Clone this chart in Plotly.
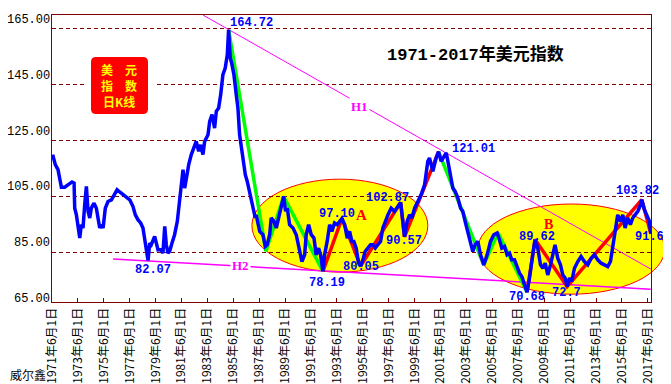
import plotly.graph_objects as go

# ---------------- data ----------------
years = [
    1971.47, 1971.67, 1971.88, 1972.01, 1972.14, 1972.40, 1972.65, 1972.96, 1973.12, 1973.17,
    1973.30, 1973.43, 1973.56, 1973.68, 1973.81, 1973.94, 1974.07, 1974.20, 1974.33, 1974.45,
    1974.66, 1974.84, 1974.97, 1975.10, 1975.22, 1975.36, 1975.53, 1975.74, 1976.00, 1976.26,
    1976.44, 1976.64, 1976.90, 1977.15, 1977.42, 1977.67, 1977.85, 1978.06, 1978.26, 1978.44,
    1978.57, 1978.70, 1978.83, 1978.96, 1979.08, 1979.34, 1979.47, 1979.60, 1979.81, 1979.98,
    1980.12, 1980.24, 1980.37, 1980.50, 1980.68, 1980.88, 1981.09, 1981.27, 1981.40, 1981.53,
    1981.66, 1981.78, 1981.97, 1982.17, 1982.35, 1982.55, 1982.74, 1982.89, 1983.07, 1983.20,
    1983.46, 1983.59, 1983.77, 1983.97, 1984.10, 1984.28, 1984.44, 1984.61, 1984.79, 1984.95,
    1985.05, 1985.18, 1985.31, 1985.46, 1985.64, 1985.77, 1985.90, 1986.03, 1986.16, 1986.34,
    1986.49, 1986.67, 1986.80, 1986.93, 1987.11, 1987.18, 1987.45, 1987.70, 1987.88, 1988.03,
    1988.22, 1988.34, 1988.55, 1988.73, 1988.91, 1989.11, 1989.30, 1989.45, 1989.58, 1989.76,
    1990.02, 1990.27, 1990.53, 1990.71, 1990.92, 1991.04, 1991.23, 1991.43, 1991.64, 1991.81,
    1992.00, 1992.15, 1992.33, 1992.46, 1992.66, 1992.85, 1993.02, 1993.23, 1993.43, 1993.62,
    1993.80, 1994.01, 1994.21, 1994.39, 1994.57, 1994.72, 1994.90, 1995.08, 1995.24, 1995.42,
    1995.59, 1995.80, 1996.01, 1996.19, 1996.37, 1996.57, 1996.78, 1996.96, 1997.14, 1997.35,
    1997.60, 1997.86, 1998.12, 1998.33, 1998.50, 1998.63, 1998.84, 1999.02, 1999.20, 1999.41,
    1999.66, 1999.91, 2000.18, 2000.43, 2000.56, 2000.82, 2001.07, 2001.26, 2001.46, 2001.72,
    2001.85, 2001.98, 2002.18, 2002.36, 2002.54, 2002.75, 2002.96, 2003.13, 2003.31, 2003.52,
    2003.73, 2003.90, 2004.08, 2004.29, 2004.50, 2004.75, 2005.01, 2005.27, 2005.52, 2005.78,
    2005.96, 2006.14, 2006.35, 2006.55, 2006.74, 2006.91, 2007.12, 2007.32, 2007.51, 2007.69,
    2007.89, 2008.09, 2008.28, 2008.40, 2008.53, 2008.71, 2008.92, 2009.13, 2009.31, 2009.49,
    2009.69, 2009.90, 2010.08, 2010.25, 2010.46, 2010.67, 2010.85, 2011.03, 2011.18, 2011.37,
    2011.54, 2011.75, 2012.01, 2012.26, 2012.52, 2012.78, 2013.04, 2013.29, 2013.55, 2013.81,
    2014.07, 2014.32, 2014.53, 2014.71, 2014.88, 2015.09, 2015.30, 2015.48, 2015.66, 2015.86,
    2016.07, 2016.25, 2016.43, 2016.64, 2016.85, 2016.95, 2017.15, 2017.36, 2017.54, 2017.60,
    2017.65,
]
usdx = [
    120.0, 116.4, 114.6, 111.6, 108.3, 108.3, 109.0, 110.2, 109.8, 100.8,
    98.4, 94.9, 90.1, 94.9, 93.7, 102.0, 108.6, 99.7, 97.3, 100.8,
    102.6, 100.8, 97.3, 93.7, 94.9, 93.7, 100.8, 103.2, 103.8, 105.6,
    107.4, 106.6, 105.6, 105.0, 103.8, 101.4, 98.4, 96.6, 95.5, 93.7,
    90.1, 87.1, 82.07, 88.3, 87.7, 90.7, 88.3, 85.9, 86.0, 84.7,
    94.3, 87.7, 84.7, 85.4, 88.3, 91.3, 96.1, 103.2, 110.4, 114.6,
    108.0, 111.6, 116.4, 120.0, 122.3, 124.7, 121.2, 123.5, 120.0, 124.7,
    127.1, 131.9, 134.3, 129.5, 135.5, 136.7, 141.5, 148.6, 151.0, 155.8,
    164.72, 154.6, 152.2, 148.6, 141.5, 136.7, 127.1, 122.3, 117.6, 112.8,
    110.4, 106.8, 104.4, 100.8, 97.3, 98.4, 92.5, 91.3, 87.1, 87.7,
    91.3, 97.3, 96.1, 93.7, 97.3, 102.0, 105.0, 99.7, 100.8, 94.9,
    93.7, 91.3, 85.3, 81.7, 84.1, 91.3, 94.9, 91.3, 90.1, 84.1,
    86.5, 84.1, 78.19, 84.1, 88.9, 94.9, 92.5, 95.5, 94.9, 96.1,
    97.10, 94.9, 90.1, 92.5, 88.9, 88.9, 86.5, 81.1, 80.05, 82.3,
    85.3, 86.5, 87.7, 87.7, 86.5, 87.7, 88.9, 93.7, 96.1, 98.4,
    100.8, 99.7, 101.4, 102.87, 96.1, 90.57, 96.1, 98.4, 97.3, 100.8,
    103.2, 105.6, 109.2, 117.6, 118.8, 114.0, 118.8, 121.01, 117.6, 120.0,
    120.6, 117.6, 112.8, 108.0, 106.8, 104.4, 100.8, 99.7, 96.1, 92.5,
    88.9, 85.3, 87.7, 88.9, 84.1, 80.5, 84.1, 88.9, 91.3, 91.9,
    89.5, 86.5, 87.1, 84.1, 84.7, 82.3, 82.3, 79.9, 77.5, 76.3,
    73.4, 70.68, 75.8, 80.5, 84.1, 89.62, 86.5, 80.5, 79.3, 81.1,
    76.9, 80.5, 84.7, 87.7, 82.9, 80.5, 76.9, 75.8, 72.7, 75.8,
    74.6, 79.3, 81.7, 83.5, 81.7, 80.5, 82.9, 84.1, 82.3, 81.1,
    80.5, 79.9, 81.7, 87.7, 92.5, 98.4, 96.1, 98.4, 93.7, 97.3,
    94.9, 97.3, 98.4, 99.7, 102.0, 103.82, 100.3, 98.4, 96.1, 93.2,
    91.62,
]

# zig-zag wave lines
green1_x = [1985.05, 1987.93, 1989.30, 1992.33]
green1_y = [164.72, 85.4, 105.0, 78.19]
red1_x = [1992.33, 1993.80, 1995.24, 1998.33, 1998.63, 2001.26]
red1_y = [78.19, 97.10, 80.05, 102.87, 90.57, 121.01]
green2_x = [2001.26, 2004.75, 2005.85, 2008.09]
green2_y = [121.01, 80.5, 92.0, 70.68]
red2_x = [2008.09, 2008.71, 2011.18, 2016.95, 2017.65]
red2_y = [70.68, 89.62, 72.7, 103.82, 91.62]

# trend lines
h1_x = [1983.07, 2017.64]
h1_y = [170.0, 79.0]
h2_x = [1976.13, 2017.64]
h2_y = [82.6, 71.8]

# ellipses (year0, year1, value0, value1)
ellipse_a = [1986.85, 2000.43, 77.9, 111.2]
ellipse_b = [2004.29, 2018.72, 70.0, 102.3]

# value labels: text, year, value
value_labels = [
    ("164.72", 1986.78, 167.1),
    ("82.07", 1979.21, 78.6),
    ("78.19", 1992.64, 74.0),
    ("80.05", 1995.26, 79.7),
    ("97.10", 1993.41, 98.8),
    ("102.87", 1997.35, 104.4),
    ("90.57", 1998.58, 89.0),
    ("121.01", 2003.94, 122.1),
    ("89.62", 2008.84, 90.5),
    ("70.68", 2008.07, 68.9),
    ("72.7", 2011.16, 70.4),
    ("103.82", 2016.64, 106.8),
    ("91.62", 2017.80, 90.6),
]

tick_years = list(range(1971, 2018, 2))
tick_vals = [y + 0.416 for y in tick_years]
tick_text = [f"{y}年6月1日" for y in tick_years]
y_grid = [85, 105, 125, 145, 165]
y_labels = [65, 85, 105, 125, 145, 165]

X0, X1 = 1971.416, 2017.66
Y0, Y1 = 67.2, 170.0


def px(v):
    return (v - X0) / (X1 - X0)


def py(v):
    return (v - Y0) / (Y1 - Y0)


fig = go.Figure()

fig.add_trace(go.Scatter(x=h1_x, y=h1_y, mode="lines",
                         line=dict(color="#ff00ff", width=1), hoverinfo="skip"))
fig.add_trace(go.Scatter(x=h2_x, y=h2_y, mode="lines",
                         line=dict(color="#ff00ff", width=1.5), hoverinfo="skip"))
for gx, gy, col in [(green1_x, green1_y, "#00ff00"), (red1_x, red1_y, "#ff0000"),
                    (green2_x, green2_y, "#00ff00"), (red2_x, red2_y, "#ff0000")]:
    fig.add_trace(go.Scatter(x=gx, y=gy, mode="lines",
                             line=dict(color=col, width=3.5), hoverinfo="skip"))
fig.add_trace(go.Scatter(x=years, y=usdx, mode="lines",
                         line=dict(color="#0000ff", width=3.5)))

shapes = []
for e in (ellipse_a, ellipse_b):
    shapes.append(dict(type="circle", xref="paper", yref="paper",
                       x0=px(e[0]), x1=px(e[1]), y0=py(e[2]), y1=py(e[3]),
                       fillcolor="#ffff00", line=dict(color="#ff0000", width=1),
                       layer="below"))

# red label box (paper coords)
W, H = 599.0, 287.0
bx0, bx1 = 39 / W, 96 / W
by0, by1 = 188 / H, 245 / H
rx, ry = 5 / W, 5 / H
shapes.append(dict(type="rect", xref="paper", yref="paper",
                   x0=33 / W, x1=103 / W, y0=182 / H, y1=251 / H,
                   fillcolor="white", line=dict(width=0), layer="above"))
path = (f"M {bx0+rx},{by0} L {bx1-rx},{by0} Q {bx1},{by0} {bx1},{by0+ry} "
        f"L {bx1},{by1-ry} Q {bx1},{by1} {bx1-rx},{by1} L {bx0+rx},{by1} "
        f"Q {bx0},{by1} {bx0},{by1-ry} L {bx0},{by0+ry} Q {bx0},{by0} {bx0+rx},{by0} Z")
shapes.append(dict(type="path", xref="paper", yref="paper", path=path,
                   fillcolor="#ff0000", line=dict(width=0), layer="above"))

ann = []
for v in y_labels:
    ann.append(dict(xref="paper", yref="paper", x=0, y=py(v), xanchor="right",
                    yanchor="middle", yshift=9, showarrow=False, text=f"{v:.2f}",
                    font=dict(family="Liberation Mono", size=12, color="black")))
for t, xv, yv in value_labels:
    ann.append(dict(xref="paper", yref="paper", x=px(xv), y=py(yv), text=t,
                    showarrow=False, xanchor="center", yanchor="middle", borderpad=0,
                    font=dict(family="Liberation Mono", size=12, color="#0000ff", weight="bold")))
ann.append(dict(x=1995.19, y=137.4, text="H1", showarrow=False, bgcolor="white",
                font=dict(family="Liberation Serif", size=13, color="#ff00ff", weight="bold")))
ann.append(dict(x=1985.93, y=80.1, text="H2", showarrow=False, bgcolor="white",
                font=dict(family="Liberation Serif", size=13, color="#ff00ff", weight="bold")))
ann.append(dict(x=1995.29, y=98.2, text="A", showarrow=False, borderpad=0,
                font=dict(family="Liberation Serif", size=15, color="#ff0000", weight="bold")))
ann.append(dict(x=2009.77, y=95.0, text="B", showarrow=False, borderpad=0,
                font=dict(family="Liberation Serif", size=14, color="#ff0000", weight="bold")))
ann.append(dict(xref="paper", yref="paper", x=423 / W, y=247 / H, text="1971-2017年美元指数",
                showarrow=False, xanchor="center", yanchor="middle",
                font=dict(family="Liberation Mono, Noto Sans CJK SC", size=17, color="black",
                          weight="bold")))
for txt, yy in [("美　元", 232), ("指　数", 216), ("日K线", 200)]:
    ann.append(dict(xref="paper", yref="paper", x=67 / W, y=yy / H, text=txt,
                    showarrow=False, xanchor="center", yanchor="middle", borderpad=0,
                    font=dict(family="Noto Sans CJK SC", size=12, color="#ffff00",
                              weight="bold")))
ann.append(dict(xref="paper", yref="paper", x=-44 / W, y=-72 / H, text="威尔鑫",
                showarrow=False, xanchor="left", yanchor="middle",
                font=dict(family="Noto Sans CJK SC", size=12, color="black")))

fig.update_layout(
    width=671, height=384,
    margin=dict(l=44, r=28, t=7, b=90),
    paper_bgcolor="white", plot_bgcolor="rgba(0,0,0,0)",
    showlegend=False,
    shapes=shapes, annotations=ann,
    xaxis=dict(range=[X0, X1], tickmode="array", tickvals=tick_vals, ticktext=tick_text,
               tickangle=-90, ticks="inside", ticklen=4, tickcolor="#800000",
               showgrid=False, zeroline=False, showline=True, linecolor="#800000",
               linewidth=1, mirror=True,
               tickfont=dict(family="Noto Sans CJK SC", size=12, color="black")),
    yaxis=dict(range=[Y0, Y1], tickmode="array", tickvals=y_grid, showticklabels=False,
               ticks="", showgrid=True, gridcolor="#800000", griddash="4px,3px",
               gridwidth=1, zeroline=False, showline=True, linecolor="#800000",
               linewidth=1, mirror=True),
)

fig.write_html("out.html")
